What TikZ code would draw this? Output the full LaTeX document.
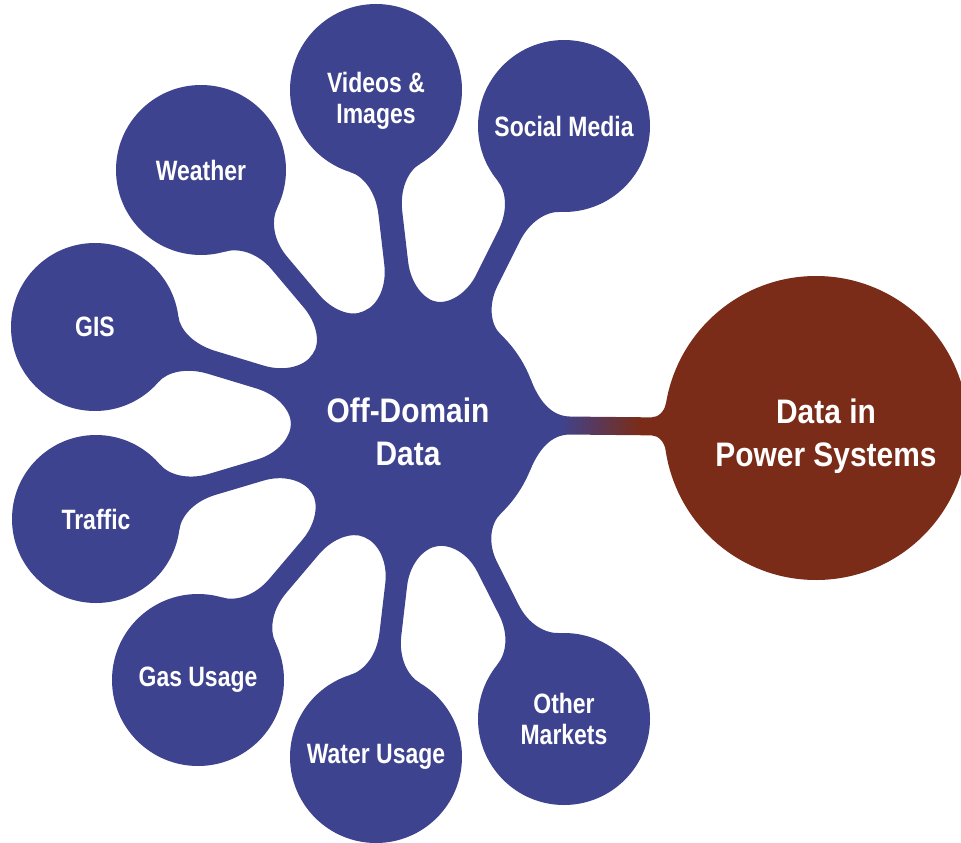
\documentclass[tikz,border=0pt]{standalone}
\usepackage{fontspec}
\setmainfont{Liberation Sans}[FakeStretch=0.88]
\newfontfamily\smallfont{Liberation Sans}[FakeStretch=0.82]
\usetikzlibrary{backgrounds}
\definecolor{bubblue}{RGB}{62,67,143}
\definecolor{bubbrown}{RGB}{122,44,24}
\pgfdeclarehorizontalshading{powershade}{100bp}{color(0bp)=(bubblue); color(36bp)=(bubblue); color(65bp)=(bubbrown); color(100bp)=(bubbrown)}
\tikzset{stemfill/.style={fill=bubblue}}
% #1 main node, #2 satellite node, #3 R, #4 r, #5 flare angle main, #6 flare angle satellite, #7 neck half width, #8 t1, #9 t2
\newcommand\stem[9]{%
  \pgfpointdiff{\pgfpointanchor{#1}{center}}{\pgfpointanchor{#2}{center}}%
  \pgfgetlastxy\stdx\stdy
  \pgfmathsetmacro\sd{veclen(\stdx,\stdy)}%
  \pgfmathsetmacro\sa{atan2(\stdy,\stdx)}%
  \pgfmathsetmacro\pax{#3*cos(#5)}\pgfmathsetmacro\pay{#3*sin(#5)}%
  \pgfmathsetmacro\gap{\sd-#3-#4}%
  \pgfmathsetmacro\nax{#3+#8*\gap}\pgfmathsetmacro\nbx{#3+#9*\gap}%
  \pgfmathsetmacro\pbx{\sd-#4*cos(#6)}\pgfmathsetmacro\pby{#4*sin(#6)}%
  \pgfmathsetmacro\ka{0.55*(\pay-#7)/cos(#5)}%
  \pgfmathsetmacro\cax{\pax+\ka*sin(#5)}\pgfmathsetmacro\cay{\pay-\ka*cos(#5)}%
  \pgfmathsetmacro\cbx{\nax-0.5*(\nax-\pax)}%
  \pgfmathsetmacro\kb{0.55*(\pby-#7)/cos(#6)}%
  \pgfmathsetmacro\cdx{\pbx-\kb*sin(#6)}\pgfmathsetmacro\cdy{\pby-\kb*cos(#6)}%
  \pgfmathsetmacro\ccx{\nbx+0.5*(\pbx-\nbx)}%
  \path[stemfill, shift={(#1.center)}, rotate=\sa]
    (\pax,\pay) .. controls (\cax,\cay) and (\cbx,#7) .. (\nax,#7)
    -- (\nbx,#7) .. controls (\ccx,#7) and (\cdx,\cdy) .. (\pbx,\pby)
    -- (\pbx,{-(\pby)}) .. controls (\cdx,{-(\cdy)}) and (\ccx,-#7) .. (\nbx,-#7)
    -- (\nax,-#7) .. controls (\cbx,-#7) and (\cax,{-(\cay)}) .. (\pax,{-(\pay)}) -- cycle;
}
\begin{document}
\begin{tikzpicture}[x=1pt,y=1pt,
  bub/.style={circle, fill=bubblue, text=white, inner sep=0pt, align=center,
    font=\smallfont\bfseries\fontsize{28}{31}\selectfont},
  big/.style={circle, inner sep=0pt},
  bigtext/.style={text=white, inner sep=0pt, align=center,
    font=\bfseries\fontsize{34}{43}\selectfont},
  smalltext/.style={text=white, inner sep=0pt, align=center,
    font=\smallfont\bfseries\fontsize{28}{31}\selectfont}]
\useasboundingbox (0,0) rectangle (961,-843);
\node[big, fill=bubblue, minimum size=248pt] (m) at (415,-424) {};
\node[bigtext] (mt) at (408,-432) {Off-Domain\\Data};
\node[big, fill=bubbrown, minimum size=304pt] (pw) at (816,-428) {};
\node[bigtext] (pwt) at (826,-436) {Data in\\Power Systems};
\node[bub, minimum size=172pt] (vid) at (376,-90) {};
\node[smalltext] (vidt) at (376,-101) {Videos \&\\Images};
\node[bub, minimum size=170pt] (wea) at (201,-170) {Weather};
\node[bub, minimum size=172pt] (soc) at (564,-126) {Social Media};
\node[bub, minimum size=168pt] (gis) at (95,-327) {GIS};
\node[bub, minimum size=168pt] (tra) at (96,-519) {Traffic};
\node[bub, minimum size=172pt] (gas) at (198,-680) {Gas Usage};
\node[bub, minimum size=172pt] (wat) at (376,-757) {Water Usage};
\node[bub, minimum size=172pt] (oth) at (564,-719) {Other\\Markets};
\begin{pgfonlayer}{background}
  \stem{m}{vid}{124}{86}{17}{24}{12}{0.3}{0.7}
  \stem{m}{wea}{124}{85}{15}{24}{10}{0.3}{0.7}
  \stem{m}{soc}{124}{86}{17}{24}{12}{0.3}{0.7}
  \stem{m}{gis}{124}{84}{17}{24}{12}{0.3}{0.7}
  \stem{m}{tra}{124}{84}{17}{24}{11}{0.3}{0.7}
  \stem{m}{gas}{124}{86}{16}{24}{11}{0.3}{0.7}
  \stem{m}{wat}{124}{86}{17}{24}{11}{0.3}{0.7}
  \stem{m}{oth}{124}{86}{17}{24}{11}{0.3}{0.7}
  \tikzset{stemfill/.style={shade, shading=powershade}}
  \stem{m}{pw}{124}{152}{22}{9}{9}{0.25}{0.9}
\end{pgfonlayer}
\end{tikzpicture}
\end{document}
